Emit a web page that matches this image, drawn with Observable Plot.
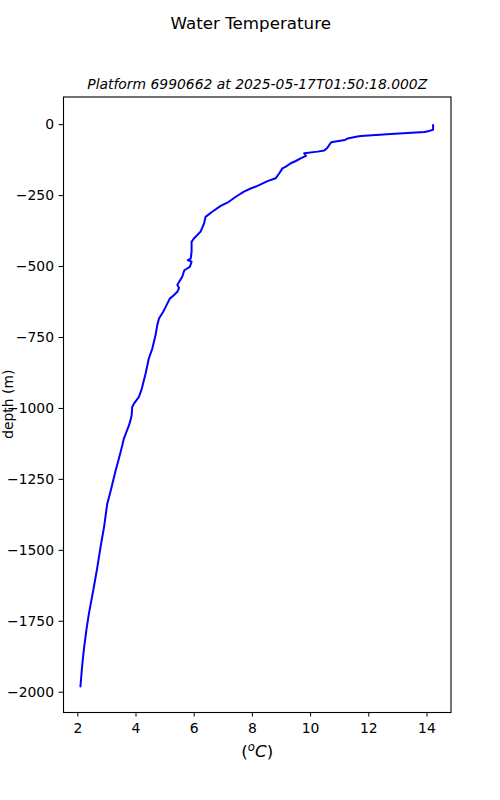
<!DOCTYPE html>
<html>
<head>
<meta charset="utf-8">
<script src="https://cdn.jsdelivr.net/npm/d3@7"></script>
<script src="https://cdn.jsdelivr.net/npm/@observablehq/plot@0.6"></script>
<style>
  html, body { margin: 0; padding: 0; background: white; }
  #chart { width: 500px; height: 800px; }
</style>
</head>
<body>
<div id="chart"></div>
<script>
const titleText = "Water Temperature";
const subtitleText = "Platform 6990662 at 2025-05-17T01:50:18.000Z";
const yLabelText = "depth (m)";

const depths = [-1, -18, -22, -26, -33, -40, -42, -49, -54, -61, -63, -81, -91, -95, -101, -110, -119, -128, -136, -148, -154, -172, -189, -199, -213, -219, -225, -236, -254, -275, -286, -307, -325, -348, -377, -401, -413, -448, -472, -477, -483, -501, -513, -536, -554, -565, -575, -589, -601, -613, -642, -660, -683, -707, -742, -789, -824, -877, -930, -959, -983, -995, -1024, -1042, -1059, -1107, -1130, -1177, -1219, -1290, -1337, -1419, -1489, -1560, -1630, -1724, -1777, -1847, -1906, -1980];
const temps = [14.21, 14.21, 14.08, 13.91, 12.76, 11.73, 11.61, 11.27, 11.18, 10.75, 10.70, 10.58, 10.47, 10.24, 9.78, 9.84, 9.66, 9.49, 9.32, 9.15, 9.03, 8.92, 8.80, 8.52, 8.23, 8.10, 7.94, 7.71, 7.43, 7.14, 6.91, 6.62, 6.39, 6.34, 6.22, 5.99, 5.91, 5.91, 5.88, 5.78, 5.91, 5.85, 5.66, 5.59, 5.48, 5.42, 5.48, 5.42, 5.30, 5.16, 5.02, 4.93, 4.79, 4.73, 4.67, 4.56, 4.44, 4.33, 4.20, 4.10, 3.93, 3.87, 3.85, 3.81, 3.76, 3.58, 3.53, 3.41, 3.30, 3.13, 3.01, 2.90, 2.78, 2.67, 2.55, 2.38, 2.30, 2.21, 2.15, 2.09];

const xTicks = [2, 4, 6, 8, 10, 12, 14];
const yTicks = [0, -250, -500, -750, -1000, -1250, -1500, -1750, -2000];

const data = depths.map((d, i) => ({depth: d, temp: temps[i]}));

const font = "DejaVu Sans, sans-serif";

const chart = Plot.plot({
  width: 500,
  height: 800,
  marginLeft: 63,
  marginRight: 49.5,
  marginTop: 96.5,
  marginBottom: 88,
  style: {fontFamily: font, fontSize: "13.9px", color: "black", background: "white"},
  x: {domain: [1.508, 14.826]},
  y: {domain: [-2071.5, 97.5]},
  marks: [
    Plot.line(data, {x: "temp", y: "depth", stroke: "#0000ff", strokeWidth: 2}),
    Plot.frame({stroke: "black", strokeWidth: 1.1}),
    Plot.axisX({ticks: xTicks, tickSize: 4.5, tickPadding: 6, label: null, fontSize: 13.9, tickFormat: d3.format("d")}),
    Plot.axisY({ticks: yTicks, tickSize: 4.5, tickPadding: 5, label: null, fontSize: 13.9, tickFormat: d3.format("d")}),
    Plot.text([titleText], {frameAnchor: "top", dx: -6.5, dy: -68, lineAnchor: "bottom", fontSize: 16.7, text: d => d}),
    Plot.text([subtitleText], {frameAnchor: "top", dy: -8.5, lineAnchor: "bottom", fontSize: 13.9, fontStyle: "italic", text: d => d}),
    Plot.text([yLabelText], {frameAnchor: "left", lineAnchor: "bottom", fontSize: 13.9, text: d => d, className: "ylabel"}),
    Plot.text(["(°C)"], {frameAnchor: "bottom", dy: 44, lineAnchor: "bottom", fontSize: 16.7, text: d => d, className: "xlabel"})
  ]
});

document.getElementById("chart").appendChild(chart);

// place the rotated y-axis label explicitly (centered on the frame, near the left edge)
const yl = chart.querySelector(".ylabel text");
if (yl) {
  const g = chart.querySelector("g.ylabel");
  if (g) g.removeAttribute("transform");
  yl.removeAttribute("x");
  yl.removeAttribute("y");
  yl.removeAttribute("dy");
  yl.setAttribute("text-anchor", "middle");
  yl.setAttribute("transform", `translate(12.5,${(96.5 + 712) / 2}) rotate(-90)`);
}

// mathtext-style label: upright parentheses, italic superscript o and italic C
const xl = chart.querySelector(".xlabel text");
if (xl) {
  xl.textContent = "";
  const ns = "http://www.w3.org/2000/svg";
  const parts = [
    {t: "(", style: "normal"},
    {t: "o", style: "italic", sup: true},
    {t: "C", style: "italic", down: true},
    {t: ")", style: "normal"}
  ];
  parts.forEach(p => {
    const ts = document.createElementNS(ns, "tspan");
    ts.textContent = p.t;
    ts.setAttribute("font-style", p.style);
    if (p.sup) { ts.setAttribute("font-size", "11.7"); ts.setAttribute("dy", "-6"); }
    if (p.down) { ts.setAttribute("dy", "6"); }
    xl.appendChild(ts);
  });
}
</script>
</body>
</html>
